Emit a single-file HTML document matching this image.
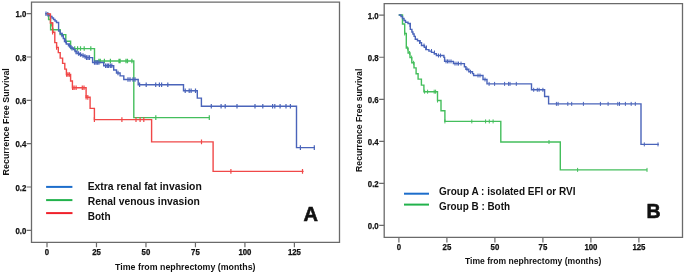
<!DOCTYPE html>
<html><head><meta charset="utf-8"><style>
html,body{margin:0;padding:0;background:#fff;}
body{width:685px;height:273px;overflow:hidden;}
svg{display:block;will-change:transform;}
svg text{font-family:"Liberation Sans", sans-serif;font-weight:bold;fill:#111;}
</style></head><body>
<svg width="685" height="273" viewBox="0 0 685 273">
<path d="M31.5,2.2H339.5V242.4H31.5Z" fill="none" stroke="#6a6a6a" stroke-width="1.3"/>
<text x="26.3" y="17.4" font-size="8.4" text-anchor="end" textLength="10.86" lengthAdjust="spacingAndGlyphs" stroke="#111" stroke-width="0.25">1.0</text>
<text x="26.3" y="60.72" font-size="8.4" text-anchor="end" textLength="10.86" lengthAdjust="spacingAndGlyphs" stroke="#111" stroke-width="0.25">0.8</text>
<text x="26.3" y="104.04" font-size="8.4" text-anchor="end" textLength="10.86" lengthAdjust="spacingAndGlyphs" stroke="#111" stroke-width="0.25">0.6</text>
<text x="26.3" y="147.36" font-size="8.4" text-anchor="end" textLength="10.86" lengthAdjust="spacingAndGlyphs" stroke="#111" stroke-width="0.25">0.4</text>
<text x="26.3" y="190.68" font-size="8.4" text-anchor="end" textLength="10.86" lengthAdjust="spacingAndGlyphs" stroke="#111" stroke-width="0.25">0.2</text>
<text x="26.3" y="234.0" font-size="8.4" text-anchor="end" textLength="10.86" lengthAdjust="spacingAndGlyphs" stroke="#111" stroke-width="0.25">0.0</text>
<text x="47.00" y="255.1" font-size="8.4" text-anchor="middle" textLength="4.34" lengthAdjust="spacingAndGlyphs" stroke="#111" stroke-width="0.25">0</text>
<text x="96.48" y="255.1" font-size="8.4" text-anchor="middle" textLength="8.69" lengthAdjust="spacingAndGlyphs" stroke="#111" stroke-width="0.25">25</text>
<text x="145.96" y="255.1" font-size="8.4" text-anchor="middle" textLength="8.69" lengthAdjust="spacingAndGlyphs" stroke="#111" stroke-width="0.25">50</text>
<text x="195.44" y="255.1" font-size="8.4" text-anchor="middle" textLength="8.69" lengthAdjust="spacingAndGlyphs" stroke="#111" stroke-width="0.25">75</text>
<text x="244.92" y="255.1" font-size="8.4" text-anchor="middle" textLength="13.03" lengthAdjust="spacingAndGlyphs" stroke="#111" stroke-width="0.25">100</text>
<text x="294.40" y="255.1" font-size="8.4" text-anchor="middle" textLength="13.03" lengthAdjust="spacingAndGlyphs" stroke="#111" stroke-width="0.25">125</text>
<path d="M26.6,13.70H31.5 M26.6,57.02H31.5 M26.6,100.34H31.5 M26.6,143.66H31.5 M26.6,186.98H31.5 M26.6,230.30H31.5 M47.00,242.4V247.3 M96.48,242.4V247.3 M145.96,242.4V247.3 M195.44,242.4V247.3 M244.92,242.4V247.3 M294.40,242.4V247.3" stroke="#6a6a6a" stroke-width="1.2" fill="none"/>
<path d="M384.2,3.6H682.5V237.4H384.2Z" fill="none" stroke="#6a6a6a" stroke-width="1.3"/>
<text x="378.7" y="18.9" font-size="8.6" text-anchor="end" textLength="10.88" lengthAdjust="spacingAndGlyphs" stroke="#111" stroke-width="0.25">1.0</text>
<text x="378.7" y="60.94" font-size="8.6" text-anchor="end" textLength="10.88" lengthAdjust="spacingAndGlyphs" stroke="#111" stroke-width="0.25">0.8</text>
<text x="378.7" y="102.98" font-size="8.6" text-anchor="end" textLength="10.88" lengthAdjust="spacingAndGlyphs" stroke="#111" stroke-width="0.25">0.6</text>
<text x="378.7" y="145.02" font-size="8.6" text-anchor="end" textLength="10.88" lengthAdjust="spacingAndGlyphs" stroke="#111" stroke-width="0.25">0.4</text>
<text x="378.7" y="187.06" font-size="8.6" text-anchor="end" textLength="10.88" lengthAdjust="spacingAndGlyphs" stroke="#111" stroke-width="0.25">0.2</text>
<text x="378.7" y="229.1" font-size="8.6" text-anchor="end" textLength="10.88" lengthAdjust="spacingAndGlyphs" stroke="#111" stroke-width="0.25">0.0</text>
<text x="398.90" y="249.9" font-size="8.6" text-anchor="middle" textLength="4.35" lengthAdjust="spacingAndGlyphs" stroke="#111" stroke-width="0.25">0</text>
<text x="446.90" y="249.9" font-size="8.6" text-anchor="middle" textLength="8.7" lengthAdjust="spacingAndGlyphs" stroke="#111" stroke-width="0.25">25</text>
<text x="494.90" y="249.9" font-size="8.6" text-anchor="middle" textLength="8.7" lengthAdjust="spacingAndGlyphs" stroke="#111" stroke-width="0.25">50</text>
<text x="542.90" y="249.9" font-size="8.6" text-anchor="middle" textLength="8.7" lengthAdjust="spacingAndGlyphs" stroke="#111" stroke-width="0.25">75</text>
<text x="590.90" y="249.9" font-size="8.6" text-anchor="middle" textLength="13.05" lengthAdjust="spacingAndGlyphs" stroke="#111" stroke-width="0.25">100</text>
<text x="638.90" y="249.9" font-size="8.6" text-anchor="middle" textLength="13.05" lengthAdjust="spacingAndGlyphs" stroke="#111" stroke-width="0.25">125</text>
<path d="M379.2,15.20H384.2 M379.2,57.24H384.2 M379.2,99.28H384.2 M379.2,141.32H384.2 M379.2,183.36H384.2 M379.2,225.40H384.2 M398.90,237.4V242.5 M446.90,237.4V242.5 M494.90,237.4V242.5 M542.90,237.4V242.5 M590.90,237.4V242.5 M638.90,237.4V242.5" stroke="#6a6a6a" stroke-width="1.2" fill="none"/>
<text x="115.1" y="269.8" font-size="8.9" text-anchor="start" textLength="140.4" lengthAdjust="spacingAndGlyphs">Time from nephrectomy (months)</text>
<text x="465.0" y="263.9" font-size="8.6" text-anchor="start" textLength="136.3" lengthAdjust="spacingAndGlyphs">Time from nephrectomy (months)</text>
<text transform="translate(8.7,175.4) rotate(-90)" font-size="8.9" textLength="107.2" lengthAdjust="spacingAndGlyphs">Recurrence Free Survival</text>
<text transform="translate(361.6,171.9) rotate(-90)" font-size="8.6" textLength="103.2" lengthAdjust="spacingAndGlyphs">Recurrence Free survival</text>
<path d="M46.1,186.9H72.4" stroke="#1c6dcb" stroke-width="2"/>
<path d="M46.1,200.1H72.4" stroke="#22b24c" stroke-width="2"/>
<path d="M46.1,213.1H72.5" stroke="#f0202a" stroke-width="2"/>
<text x="87.7" y="190.0" font-size="10.3" text-anchor="start" textLength="114.1" lengthAdjust="spacingAndGlyphs">Extra renal fat invasion</text>
<text x="87.7" y="205.1" font-size="10.3" text-anchor="start" textLength="112.1" lengthAdjust="spacingAndGlyphs">Renal venous invasion</text>
<text x="87.7" y="219.7" font-size="10.3" text-anchor="start" textLength="22.9" lengthAdjust="spacingAndGlyphs">Both</text>
<path d="M404,193.7H429" stroke="#1c6dcb" stroke-width="2"/>
<path d="M404,204.6H429" stroke="#22b24c" stroke-width="2"/>
<text x="439" y="195.1" font-size="10.2" text-anchor="start" textLength="136.5" lengthAdjust="spacingAndGlyphs">Group A : isolated EFI or RVI</text>
<text x="439" y="209.5" font-size="10.2" text-anchor="start" textLength="71" lengthAdjust="spacingAndGlyphs">Group B : Both</text>
<text x="303.6" y="221" font-size="20" text-anchor="start" stroke="#111" stroke-width="0.6">A</text>
<text x="646.6" y="218" font-size="19.5" text-anchor="start" stroke="#111" stroke-width="0.6">B</text>
<path d="M46.8,13.9 H48.6 V19.5 H50.6 V29.8 H60.2 V34.6 H65.8 V41.2 H70.6 V48.6 H94.5 V61 H133.8 V117.6 H209.5" fill="none" stroke="#44be5c" stroke-width="1.4"/><path d="M74.7,46.2V50.8 M77.6,46.2V50.8 M80.5,46.2V50.8 M84.2,46.2V50.8 M90.8,46.2V50.8 M98.9,58.7V63.3 M100.3,58.7V63.3 M104.4,58.7V63.3 M110.4,58.7V63.3 M119,58.7V63.3 M120.1,58.7V63.3 M126,58.7V63.3 M127.5,58.7V63.3 M131.9,58.7V63.3 M155.8,115.3V119.89999999999999 M209.3,115.3V119.89999999999999 M53,27.5V32.1 M51.3,22.0V26.6" fill="none" stroke="#44be5c" stroke-width="1.2"/>
<path d="M45.2,13.7 H46.8 V13.9 H49 V15.5 H50.5 V16.5 H52 V18 H53.5 V19.5 H55 V21 H56.5 V22.5 H58.6 V31 H60.2 V33.5 H62 V35.5 H63.3 V38.5 H64.5 V41.5 H66.3 V44 H68.5 V45.8 H70.8 V48 H73.5 V49.5 H75 V51.5 H77 V53.5 H79.5 V54.5 H81.5 V55.5 H84 V56.5 H86 V57.6 H92.6 V62.5 H103.7 V65.8 H113.7 V70 H116.5 V73 H120.1 V75.9 H123.8 V79.5 H138.2 V84.7 H183.5 V90.7 H197.3 V98.1 H201.4 V106.3 H296.5 V147.6 H315" fill="none" stroke="#4a64ba" stroke-width="1.4"/><path d="M46,11.5V16.1 M47.8,11.899999999999999V16.5 M86.5,55.300000000000004V59.9 M88,55.300000000000004V59.9 M89.5,55.300000000000004V59.9 M94.5,60.2V64.8 M96,60.2V64.8 M97.4,60.2V64.8 M98.9,60.2V64.8 M105.6,63.5V68.1 M107.2,63.5V68.1 M108.5,63.5V68.1 M110.3,63.5V68.1 M111.8,63.5V68.1 M118,70.7V75.3 M128,77.2V81.8 M130,77.2V81.8 M133,77.2V81.8 M135,77.2V81.8 M139.6,82.4V87.0 M146.2,82.4V87.0 M155.7,82.4V87.0 M159.4,82.4V87.0 M161.6,82.4V87.0 M167.8,82.4V87.0 M185.2,88.4V93.0 M189.2,88.4V93.0 M191.1,88.4V93.0 M195.5,88.4V93.0 M211.3,104.0V108.6 M221.1,104.0V108.6 M225.2,104.0V108.6 M237,104.0V108.6 M255,104.0V108.6 M262.8,104.0V108.6 M272.6,104.0V108.6 M274.8,104.0V108.6 M280.1,104.0V108.6 M286,104.0V108.6 M290.4,104.0V108.6 M300.4,145.29999999999998V149.9 M314.3,145.29999999999998V149.9 M62,32.7V37.3 M65.5,38.7V43.3 M69.5,43.2V47.8 M72,46.0V50.599999999999994 M76,49.7V54.3 M78.5,51.2V55.8 M80.5,52.2V56.8 M83,53.2V57.8 M85,54.2V58.8" fill="none" stroke="#4a64ba" stroke-width="1.2"/>
<path d="M46.8,13.9 H50.4 V23 H52.6 V32.2 H54.8 V42.6 H56.6 V47.4 H58.3 V52.6 H60.2 V58.1 H62.6 V63.4 H64.8 V69.1 H66.4 V74.5 H70.6 V81 H72.4 V87.7 H86.1 V97.3 H90.1 V108.4 H94.4 V119.6 H151.6 V141.9 H213.1 V171.4 H303.6" fill="none" stroke="#f04848" stroke-width="1.4"/><path d="M66.6,72.2V76.8 M68,72.2V76.8 M69.5,72.2V76.8 M72.6,85.4V90.0 M74.1,85.4V90.0 M76.1,85.4V90.0 M82.3,85.4V90.0 M84,85.4V90.0 M52.6,22.2V26.8 M52.6,29.900000000000002V34.5 M56.6,45.1V49.699999999999996 M86.1,95.0V99.6 M94.4,117.3V121.89999999999999 M87.8,95.10000000000001V99.7 M121.9,117.3V121.89999999999999 M136,117.3V121.89999999999999 M140.1,117.3V121.89999999999999 M143.8,117.3V121.89999999999999 M201.5,139.6V144.20000000000002 M230.9,169.1V173.70000000000002 M302.5,169.1V173.70000000000002" fill="none" stroke="#f04848" stroke-width="1.2"/>
<path d="M398.7,15 H402.5 V24 H404.7 V33.5 H406.3 V48.1 H408.1 V53 H410 V57.6 H411.8 V62.8 H414 V67.9 H416.1 V73.7 H418.1 V79.1 H421.4 V85.1 H423.9 V91.7 H437.5 V100.5 H441 V110.8 H444.9 V121.4 H500.8 V142 H560.3 V169.9 H647.2" fill="none" stroke="#44be5c" stroke-width="1.4"/><path d="M404.7,31.5V35.5 M407.6,46.4V50.4 M409.6,51.0V55.0 M411.6,55.6V59.6 M413.6,60.8V64.8 M424.6,89.7V93.7 M427.6,89.7V93.7 M434.2,89.7V93.7 M435.6,89.7V93.7 M437.5,98.5V102.5 M444.9,119.4V123.4 M471.8,119.4V123.4 M485.6,119.4V123.4 M489.3,119.4V123.4 M493.1,119.4V123.4 M549,140.0V144.0 M577.6,167.9V171.9 M647,167.9V171.9" fill="none" stroke="#44be5c" stroke-width="1.0"/>
<path d="M398.7,15 H401 V16.5 H402.5 V18.5 H404 V20.5 H405.5 V22.3 H408 V23.5 H410.3 V24.8 V29.4 H411.9 V32 H412.9 V34 H414.1 V36.4 H415.3 V39.3 H417.5 V40.8 H420.1 V42.8 H421.5 V45.5 H424.5 V47.2 H425.8 V49.6 H428.9 V51.1 H431.5 V52.4 H434.2 V53.7 H436.4 V55.5 H443.9 V57.4 H444.6 V61.4 H453.4 V63.6 H464.4 V66.7 H465.9 V69.2 H468.8 V71.8 H472.5 V73.6 H473.6 V75.5 H483 V79.5 H487 V83.9 H531.5 V89.8 H544.6 V96.5 H548.6 V103.9 H641 V144.4 H658.8" fill="none" stroke="#4a64ba" stroke-width="1.4"/><path d="M438.5,53.5V57.5 M440.5,53.5V57.5 M446,59.4V63.4 M447.5,59.4V63.4 M449,59.4V63.4 M451,59.4V63.4 M455,61.6V65.6 M457,61.6V65.6 M458.5,61.6V65.6 M461,61.6V65.6 M467,67.2V71.2 M470.5,69.8V73.8 M478,73.5V77.5 M480,73.5V77.5 M485,77.5V81.5 M489.1,81.9V85.9 M494.6,81.9V85.9 M504.6,81.9V85.9 M508.6,81.9V85.9 M510,81.9V85.9 M516.3,81.9V85.9 M533.7,87.8V91.8 M537.3,87.8V91.8 M539.1,87.8V91.8 M542.9,87.8V91.8 M556.4,101.9V105.9 M558.1,101.9V105.9 M567.8,101.9V105.9 M571.7,101.9V105.9 M583.4,101.9V105.9 M600.4,101.9V105.9 M608.1,101.9V105.9 M617.8,101.9V105.9 M619.5,101.9V105.9 M625.4,101.9V105.9 M631.2,101.9V105.9 M635.3,101.9V105.9 M644.3,142.4V146.4 M658,142.4V146.4 M410,23.0V27.0 M419.5,40.0V44.0 M424,43.5V47.5 M426.5,45.5V49.5 M431.5,49.0V53.0 M434.5,50.5V54.5" fill="none" stroke="#4a64ba" stroke-width="1.0"/>
</svg>
</body></html>
